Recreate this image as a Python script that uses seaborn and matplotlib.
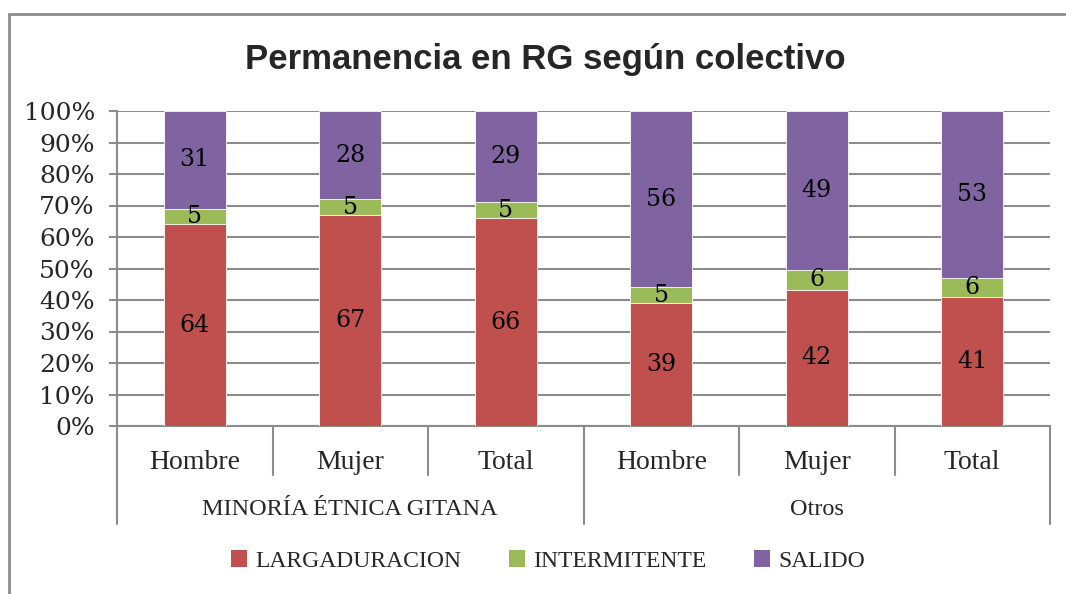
import numpy as np
import pandas as pd
import matplotlib
matplotlib.use("Agg")
import matplotlib.pyplot as plt
import seaborn as sns
from matplotlib.lines import Line2D
from matplotlib.patches import Patch
import matplotlib.transforms as mtransforms

# data
grupos = ["MINORÍA ÉTNICA GITANA", "Otros"]
subcats = ["Hombre", "Mujer", "Total", "Hombre", "Mujer", "Total"]
largaduracion = [64, 67, 66, 39, 42, 41]
intermitente = [5, 5, 5, 5, 6, 6]
salido = [31, 28, 29, 56, 49, 53]
series = ["LARGADURACION", "INTERMITENTE", "SALIDO"]
colores = ["#C0504D", "#9BBB59", "#8064A2"]

sns.set_theme(style="white")
plt.rcParams["font.family"] = ["Liberation Serif", "DejaVu Serif"]
numfont = ["DejaVu Serif"]

df = pd.DataFrame({"pos": range(6), "LARGADURACION": largaduracion,
                   "INTERMITENTE": intermitente, "SALIDO": salido})
tot = df[series].sum(axis=1)
pct = df[series].div(tot, axis=0) * 100
cum = pct.cumsum(axis=1)
df["c0"] = cum["LARGADURACION"]
df["c1"] = cum["INTERMITENTE"]
df["c2"] = cum["SALIDO"]
df["pos"] = df["pos"].astype(str)

fig = plt.figure(figsize=(10.66, 5.94), dpi=100)
ax = fig.add_axes([117 / 1066, 168 / 594, (1050 - 117) / 1066, 315 / 594])

for col, c in zip(["c2", "c1", "c0"], colores[::-1]):
    sns.barplot(data=df, x="pos", y=col, color=c, width=0.4, ax=ax,
                saturation=1, edgecolor="white", linewidth=0.6, zorder=3)

# value labels centred in each segment
for i in range(6):
    prev = 0
    for s in series:
        top = cum.loc[i, s]
        ax.text(i, (prev + top) / 2, str(df.loc[i, s]), ha="center", va="center",
                fontsize=17, family=numfont, color="black", zorder=4)
        prev = top

ax.set_xlim(-0.5, 5.5)
ax.set_ylim(0, 100)
ax.set_yticks(np.arange(0, 101, 10))
ax.set_yticklabels([f"{v}%" for v in range(0, 101, 10)], fontsize=18, family=numfont)
ax.set_xticks(range(6))
ax.set_xticklabels(subcats, fontsize=20)
ax.set_xlabel("")
ax.set_ylabel("")
ax.grid(axis="y", color="#8c8c8c", linewidth=1.5, zorder=0)
ax.set_axisbelow(True)
ax.tick_params(axis="y", length=6, width=1.5, color="#8c8c8c", pad=10, left=True)
ax.tick_params(axis="x", length=0, pad=17)
for sp in ["top", "right"]:
    ax.spines[sp].set_visible(False)
for sp in ["left", "bottom"]:
    ax.spines[sp].set_color("#8c8c8c")
    ax.spines[sp].set_linewidth(1.5)

# category separators below the axis
tr = mtransforms.blended_transform_factory(ax.transData, ax.transAxes)
for b in np.arange(-0.5, 6, 1):
    y1 = -0.31 if b in (-0.5, 2.5, 5.5) else -0.155
    ax.add_line(Line2D([b, b], [0, y1], transform=tr, color="#8c8c8c",
                       linewidth=1.5, clip_on=False))
for g, xc in zip(grupos, [1, 4]):
    ax.text(xc, -0.265, g, transform=tr, ha="center", va="center", fontsize=17.5)

fig.suptitle("Permanencia en RG según colectivo", x=545 / 1066, y=1 - 59 / 594,
             va="center", fontsize=25, fontweight="bold",
             family=["Liberation Sans", "DejaVu Sans"])

handles = [Patch(facecolor=c, edgecolor="none") for c in colores]
fig.legend(handles, series, loc="center", bbox_to_anchor=(548 / 1066, 1 - 561 / 594),
           ncol=3, frameon=False, fontsize=17, handlelength=0.7, handleheight=0.7,
           handletextpad=0.35, columnspacing=2.0)

# outer chart frame
fig.add_artist(Line2D([9 / 1066, 1.0], [1 - 14 / 594] * 2, transform=fig.transFigure,
                      color="#8c8c8c", linewidth=2))
fig.add_artist(Line2D([9 / 1066] * 2, [0, 1 - 14 / 594], transform=fig.transFigure,
                      color="#8c8c8c", linewidth=2))

fig.savefig("out.png", dpi=100)
